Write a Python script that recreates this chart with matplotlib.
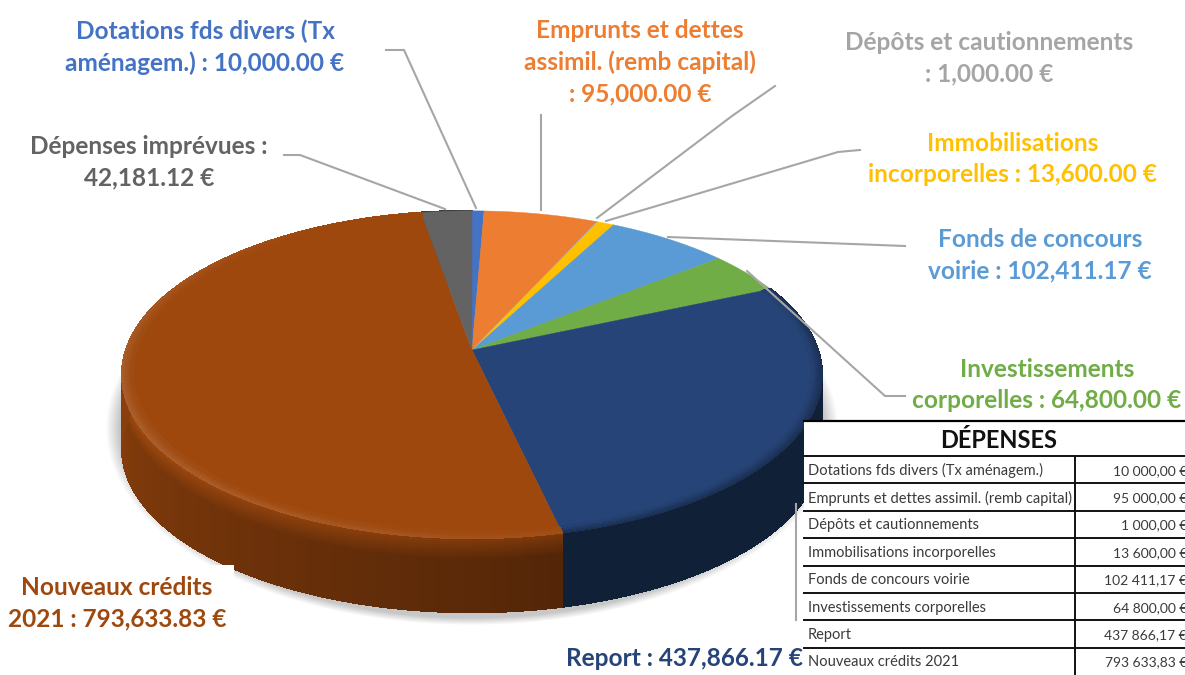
import numpy as np
import matplotlib
matplotlib.use("Agg")
import matplotlib.pyplot as plt
from matplotlib.collections import PolyCollection
from matplotlib.patches import Rectangle, Ellipse

plt.rcParams['font.family'] = ['Lato', 'DejaVu Sans']

# slices, clockwise from the top of the pie
values = [10000.00, 95000.00, 1000.00, 13600.00, 102411.17, 64800.00, 437866.17, 793633.83, 42181.12]
colors = ["#4472c4", "#ed7d31", "#a5a5a5", "#ffc000", "#5b9bd5", "#70ad47", "#264478", "#9e480e", "#636363"]
side_colors = {6: "#1a3358", 7: "#9e480e"}

label_texts = ["Dotations fds divers (Tx\naménagem.) : 10,000.00 €",
               "Emprunts et dettes\nassimil. (remb capital)\n: 95,000.00 €",
               "Dépôts et cautionnements\n: 1,000.00 €",
               "Immobilisations\nincorporelles : 13,600.00 €",
               "Fonds de concours\nvoirie : 102,411.17 €",
               "Investissements\ncorporelles : 64,800.00 €",
               "Report : 437,866.17 €",
               "Nouveaux crédits\n2021 : 793,633.83 €",
               "Dépenses imprévues :\n42,181.12 €"]
label_x = [205, 640, 989, 1013, 1040, 1047, 684, 117, 149]
label_y = [47, 62, 58, 159, 255, 385, 659, 603, 162]
label_colors = ["#4472c4", "#ed7d31", "#a5a5a5", "#ffc000", "#5b9bd5", "#70ad47", "#264478", "#9e480e", "#636363"]

# leader lines, in picture pixels
leaders = [[(386, 50), (404, 50), (476, 208)],
           [(541, 115), (541, 210)],
           [(775, 86), (732, 116), (597, 218)],
           [(860, 150), (838, 152), (606, 221)],
           [(905, 246), (668, 237)],
           [(905, 396), (885, 396), (747, 271)],
           [(284, 155), (300, 155), (445, 209)],
           [(796, 504), (796, 620)]]

table_rows = ["Dotations fds divers (Tx aménagem.)", "Emprunts et dettes assimil. (remb capital)",
              "Dépôts et cautionnements", "Immobilisations incorporelles", "Fonds de concours voirie",
              "Investissements corporelles", "Report", "Nouveaux crédits 2021"]
table_amounts = ["10 000,00 €", "95 000,00 €", "1 000,00 €", "13 600,00 €", "102 411,17 €",
                 "64 800,00 €", "437 866,17 €", "793 633,83 €"]

fig = plt.figure(figsize=(11.85, 6.75), dpi=100)
ax = fig.add_axes([0, 0, 1, 1])
ax.set_xlim(0, 1185)
ax.set_ylim(675, 0)
ax.axis("off")


# tilted circle: t clockwise from the back of the pie, r 0..1
def project(t, r=1.0, drop=0.0):
    k = 0.15
    d = 1 + k * r * np.cos(t)
    return 472 + 346 * r * np.sin(t) / d, 350 - 160 * r * np.cos(t) / d + drop


def shade(hex_col, f):
    rgb = np.array(matplotlib.colors.to_rgb(hex_col))
    if f <= 1:
        return tuple(rgb * f)
    return tuple(rgb + (1 - rgb) * (f - 1))


fractions = np.array(values) / sum(values)
edges = np.concatenate([[0], np.cumsum(fractions)]) * 2 * np.pi

# soft shadow under the pie
for i in range(14):
    grow = 1 + (13 - i) * 0.0028
    ax.add_patch(Ellipse((472, 428), 706 * grow, 2 * 190 * grow, color="#000000", alpha=0.016, lw=0, zorder=1))

# pie side, only the front half shows
quads, quad_colors = [], []
depth = 74
layers = 37
for i in range(len(values)):
    if edges[i + 1] < np.pi / 2:
        continue
    ts = np.linspace(edges[i], edges[i + 1], max(3, int((edges[i + 1] - edges[i]) * 110)))
    col = side_colors.get(i, colors[i])
    for a, b in zip(ts[:-1], ts[1:]):
        # left side catches the light, the front and the right fall off
        pos = (a + b) / 2
        if i == 7:
            f = 0.52 + 0.36 * np.clip((pos - np.radians(165)) / np.radians(105), 0, 1)
            strength = 0.25
        else:
            f = 0.62
            strength = 0.0
        for j in range(layers):
            u0, u1 = j / layers, (j + 1) / layers
            x0, y0 = project(a, 1.0, depth * u0)
            x1, y1 = project(b, 1.0, depth * u0)
            x2, y2 = project(b, 1.0, depth * u1)
            x3, y3 = project(a, 1.0, depth * u1)
            quads.append([(x0, y0), (x1, y1), (x2, y2), (x3, y3)])
            glow = strength * max(0, 1 - u0 * 3.5)
            quad_colors.append(shade(col, f + glow))
ax.add_collection(PolyCollection(quads, facecolors=quad_colors, edgecolors=quad_colors, linewidths=0.8,
                                 antialiaseds=False, zorder=2))

# top face
for i in range(len(values)):
    ts = np.linspace(edges[i], edges[i + 1], max(3, int((edges[i + 1] - edges[i]) * 110)))
    xs, ys = project(ts)
    ax.fill(np.r_[472, xs], np.r_[350, ys], color=colors[i], lw=0.3, zorder=3)

# bevel highlight along the front rim
quads, quad_colors = [], []
rings = 6
for i in [6, 7]:
    ts = np.linspace(edges[i], edges[i + 1], max(3, int((edges[i + 1] - edges[i]) * 110)))
    for a, b in zip(ts[:-1], ts[1:]):
        pos = (a + b) / 2
        strength = max(0, -np.cos(pos - np.radians(60)))
        for j in range(rings):
            r0, r1 = 1 - 0.03 * (j + 1) / rings, 1 - 0.03 * j / rings
            x0, y0 = project(a, r1)
            x1, y1 = project(b, r1)
            x2, y2 = project(b, r0)
            x3, y3 = project(a, r0)
            quads.append([(x0, y0), (x1, y1), (x2, y2), (x3, y3)])
            if i == 7:
                quad_colors.append(shade(colors[i], 1 + 0.12 * strength * (1 - j / rings)))
            else:
                quad_colors.append(shade(colors[i], 1 - 0.3 * (1 - j / rings)))
ax.add_collection(PolyCollection(quads, facecolors=quad_colors, edgecolors=quad_colors, linewidths=0.6,
                                 antialiaseds=False, zorder=4))

# labels, the one at the lower left sits on a white box
ax.add_patch(Rectangle((0, 565), 234, 70, color="white", lw=0, zorder=5))
ax.add_patch(Rectangle((541, 620), 264, 55, color="white", lw=0, zorder=5))

# leader lines
for pts in leaders:
    ax.plot([p[0] for p in pts], [p[1] for p in pts], color="#a6a6a6", lw=1.5, zorder=5)

for txt, x, y, col in zip(label_texts, label_x, label_y, label_colors):
    ax.text(x, y, txt, color=col, fontsize=17.6, fontweight="bold", ha="center", va="center",
            linespacing=1.44, zorder=6)

# pasted table
left, mid, right = 804, 1075, 1190
top, head = 421, 456
row_h = 27.4
ax.add_patch(Rectangle((left, top), right - left, 260, color="white", lw=0, zorder=7))
ax.text(999, 440, "DÉPENSES", fontsize=17, fontweight="bold", color="#111111",
        ha="center", va="center", zorder=8)
ax.plot([left, right], [top, top], color="black", lw=1.6, zorder=8)
ax.plot([mid, mid], [head, 675], color="#111111", lw=1.4, zorder=8)
for i in range(len(table_rows)):
    yy = head + row_h * i
    ax.plot([left, right], [yy, yy], color="#111111", lw=1.4, zorder=8)
    ax.text(left + 4, yy + row_h / 2 + 1, table_rows[i], fontsize=10.5, color="#3a3a3a", va="center", zorder=8)
    ax.text(1187, yy + row_h / 2 + 1, table_amounts[i], fontsize=10, color="#3a3a3a", ha="right", va="center", zorder=8)

fig.savefig("out.png", dpi=100)
